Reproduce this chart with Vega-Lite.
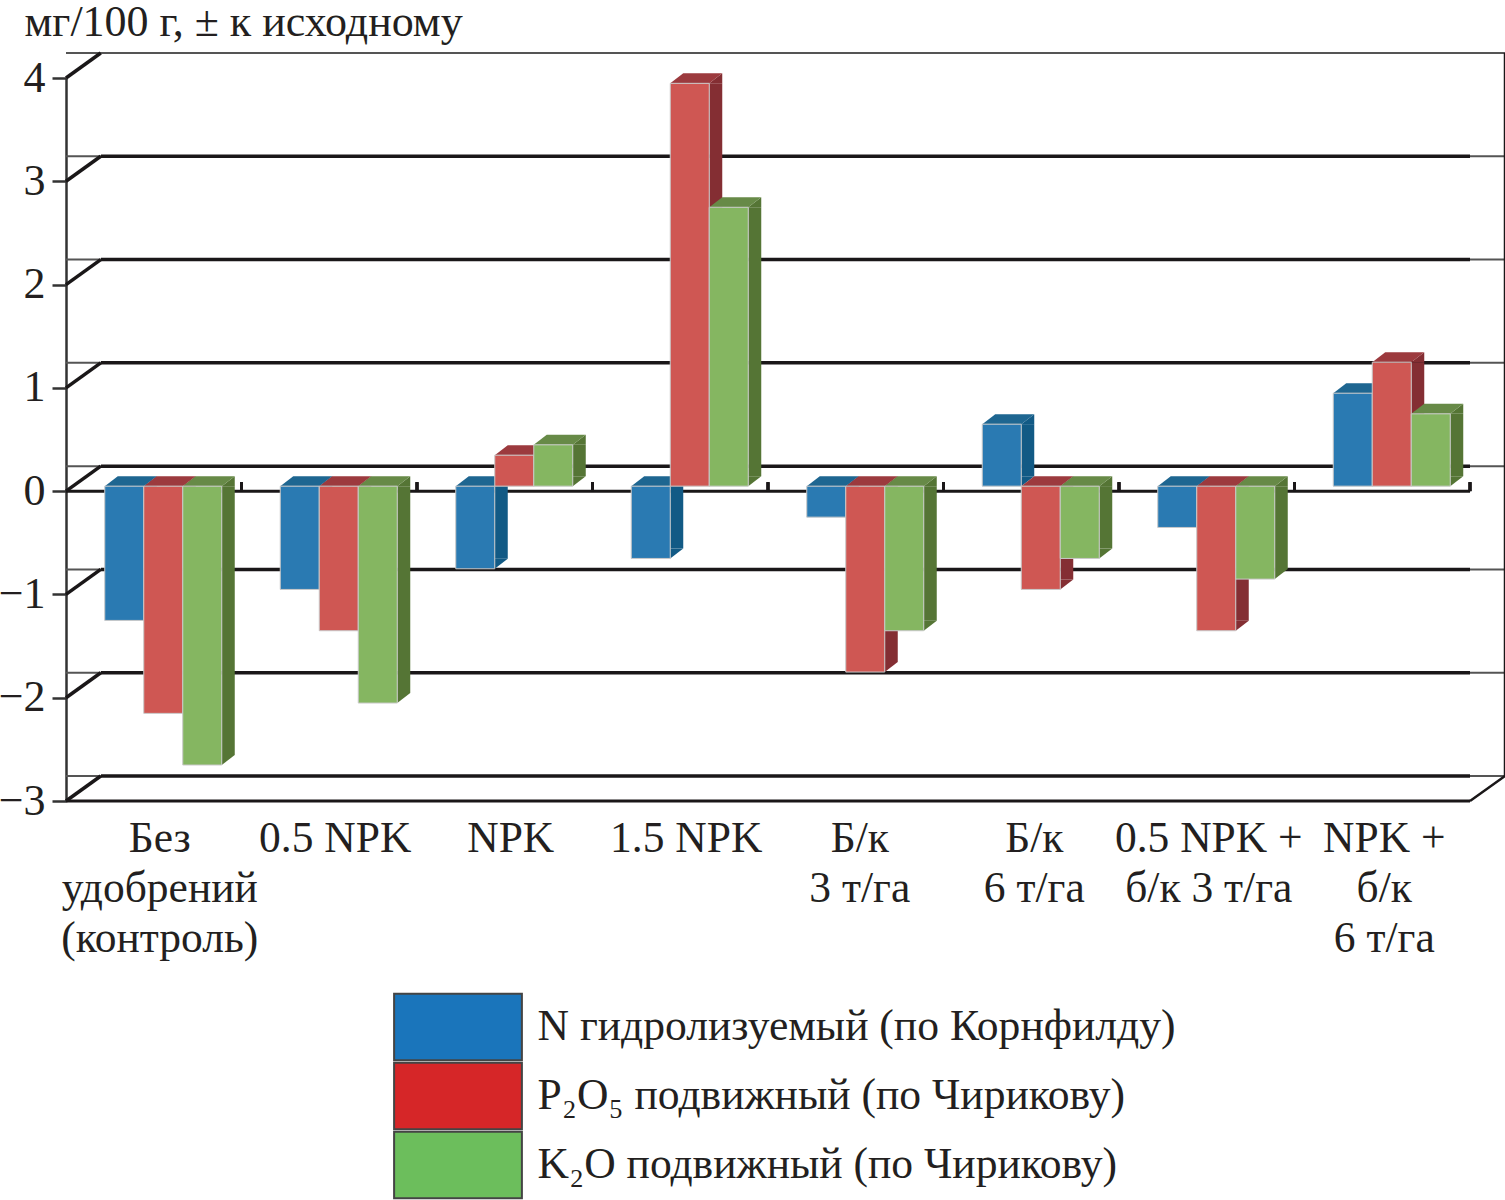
{
"$schema":"https://vega.github.io/schema/vega-lite/v6.json",
"autosize":{"type":"none"},
"padding":{"left":66,"top":78,"right":35,"bottom":399},
"width":1404,"height":723,
"background":"white",
"config":{"view":{"stroke":null},"font":"Liberation Serif"},
"data":{"values":[
{"group":"Без\nудобрений\n(контроль)","series":"N гидролизуемый (по Корнфилду)","value":-1.3},
{"group":"Без\nудобрений\n(контроль)","series":"P₂O₅ подвижный (по Чирикову)","value":-2.2},
{"group":"Без\nудобрений\n(контроль)","series":"K₂O подвижный (по Чирикову)","value":-2.7},
{"group":"0.5 NPK","series":"N гидролизуемый (по Корнфилду)","value":-1.0},
{"group":"0.5 NPK","series":"P₂O₅ подвижный (по Чирикову)","value":-1.4},
{"group":"0.5 NPK","series":"K₂O подвижный (по Чирикову)","value":-2.1},
{"group":"NPK","series":"N гидролизуемый (по Корнфилду)","value":-0.8},
{"group":"NPK","series":"P₂O₅ подвижный (по Чирикову)","value":0.3},
{"group":"NPK","series":"K₂O подвижный (по Чирикову)","value":0.4},
{"group":"1.5 NPK","series":"N гидролизуемый (по Корнфилду)","value":-0.7},
{"group":"1.5 NPK","series":"P₂O₅ подвижный (по Чирикову)","value":3.9},
{"group":"1.5 NPK","series":"K₂O подвижный (по Чирикову)","value":2.7},
{"group":"Б/к\n3 т/га","series":"N гидролизуемый (по Корнфилду)","value":-0.3},
{"group":"Б/к\n3 т/га","series":"P₂O₅ подвижный (по Чирикову)","value":-1.8},
{"group":"Б/к\n3 т/га","series":"K₂O подвижный (по Чирикову)","value":-1.4},
{"group":"Б/к\n6 т/га","series":"N гидролизуемый (по Корнфилду)","value":0.6},
{"group":"Б/к\n6 т/га","series":"P₂O₅ подвижный (по Чирикову)","value":-1.0},
{"group":"Б/к\n6 т/га","series":"K₂O подвижный (по Чирикову)","value":-0.7},
{"group":"0.5 NPK +\nб/к 3 т/га","series":"N гидролизуемый (по Корнфилду)","value":-0.4},
{"group":"0.5 NPK +\nб/к 3 т/га","series":"P₂O₅ подвижный (по Чирикову)","value":-1.4},
{"group":"0.5 NPK +\nб/к 3 т/га","series":"K₂O подвижный (по Чирикову)","value":-0.9},
{"group":"NPK +\nб/к\n6 т/га","series":"N гидролизуемый (по Корнфилду)","value":0.9},
{"group":"NPK +\nб/к\n6 т/га","series":"P₂O₅ подвижный (по Чирикову)","value":1.2},
{"group":"NPK +\nб/к\n6 т/га","series":"K₂O подвижный (по Чирикову)","value":0.7}
]},
"transform":[{"calculate":"max(datum.value,0)","as":"top"},{"calculate":"min(datum.value,0)","as":"bot"},{"calculate":"datum.series[0]=='N'?-1:datum.series[0]=='P'?0:1","as":"slot"},{"calculate":"datum.slot+2/3","as":"sideSlot"}],
"layer":[
{"data":{"values":[{"level":-3},{"level":-2},{"level":-1},{"level":0},{"level":1},{"level":2},{"level":3},{"level":4}]},
 "transform":[],
 "mark":{"type":"rule","color":"#555","strokeWidth":2,"xOffset":35,"x2Offset":35,"yOffset":-25},
 "encoding":{"y":{"field":"level","type":"quantitative","scale":{"domain":[-3,4],"nice":false},"axis":{"values":[-3,-2,-1,0,1,2,3,4],"format":"d","title":"мг/100 г, ± к исходному","titleFont":"Liberation Serif","titleFontSize":44,"titleFontWeight":"normal","titleColor":"#231f20","titleAngle":0,"titleAlign":"left","titleBaseline":"alphabetic","titleX":-42,"titleY":-43,"titleLimit":700,"grid":false,"domainColor":"#333","domainWidth":2.5,"tickColor":"#333","tickWidth":2.5,"tickSize":14,"labelFontSize":44,"labelColor":"#231f20","labelPadding":7,"labelFont":"Liberation Serif"}}}},
{"data":{"values":[{"level":-3},{"level":-2},{"level":-1},{"level":0},{"level":1},{"level":2},{"level":3}]},
 "transform":[],
 "mark":{"type":"point","shape":"M-52.75,-25L1316.25,-25","size":4,"filled":false,"opacity":1,"stroke":"#1a1718","strokeWidth":3.5},
 "encoding":{"x":{"datum":"Без\nудобрений\n(контроль)","type":"nominal"},"y":{"field":"level","type":"quantitative"}}},
{"data":{"values":[{"level":-3},{"level":-2},{"level":-1},{"level":0},{"level":1},{"level":2},{"level":3},{"level":4}]},
 "transform":[],
 "mark":{"type":"point","shape":"M-87.75,0L-53,-25","size":4,"filled":false,"opacity":1,"stroke":"#1a1718","strokeWidth":3.5},
 "encoding":{"x":{"datum":"Без\nудобрений\n(контроль)","type":"nominal"},"y":{"field":"level","type":"quantitative"}}},
{"data":{"values":[{"level":-3}]},
 "transform":[],
 "mark":{"type":"point","shape":"M87.75,0L122.75,-25L122.75,-748","size":4,"filled":false,"opacity":1,"stroke":"#1a1718","strokeWidth":2.5},
 "encoding":{"x":{"datum":"NPK +\nб/к\n6 т/га","type":"nominal"},"y":{"field":"level","type":"quantitative"}}},
{"data":{"values":[{"level":-3},{"level":0}]},
 "transform":[],
 "mark":{"type":"rule","color":"#1a1718","strokeWidth":3},
 "encoding":{"y":{"field":"level","type":"quantitative"}}},
{"mark":{"type":"point","shape":"M87.75,0L87.75,-9","size":4,"filled":false,"opacity":1,"stroke":"#1a1718","strokeWidth":3},
 "encoding":{"x":{"field":"group","type":"nominal","sort":null},"y":{"datum":0,"type":"quantitative"}}},
{"mark":{"type":"bar","width":13,"yOffset":-5,"y2Offset":-15},
 "encoding":{"x":{"field":"group","type":"nominal","sort":null},"xOffset":{"field":"sideSlot","type":"quantitative","scale":{"domain":[-1,1],"range":[58.25,136.25]}},"y":{"field":"top","type":"quantitative"},"y2":{"field":"bot"},
 "color":{"field":"series","sort":null,"legend":null,"scale":{"domain":["N гидролизуемый (по Корнфилду)","P₂O₅ подвижный (по Чирикову)","K₂O подвижный (по Чирикову)"],"range":["#125a85","#842e33","#557535"]}}}},
{"mark":{"type":"point","shape":"M19.5,0L32.5,-10L32.5,0Z","size":4,"filled":true,"opacity":1,"yOffset":-5},
 "encoding":{"x":{"field":"group","type":"nominal","sort":null},"xOffset":{"field":"slot","type":"quantitative"},"y":{"field":"top","type":"quantitative"},
 "color":{"field":"series","sort":null,"legend":null,"scale":{"domain":["N гидролизуемый (по Корнфилду)","P₂O₅ подвижный (по Чирикову)","K₂O подвижный (по Чирикову)"],"range":["#125a85","#842e33","#557535"]}}}},
{"mark":{"type":"point","shape":"M19.5,0L32.5,-10L19.5,-10Z","size":4,"filled":true,"opacity":1,"yOffset":-5},
 "encoding":{"x":{"field":"group","type":"nominal","sort":null},"xOffset":{"field":"slot","type":"quantitative"},"y":{"field":"bot","type":"quantitative"},
 "color":{"field":"series","sort":null,"legend":null,"scale":{"domain":["N гидролизуемый (по Корнфилду)","P₂O₅ подвижный (по Чирикову)","K₂O подвижный (по Чирикову)"],"range":["#125a85","#842e33","#557535"]}}}},
{"mark":{"type":"point","shape":"M-19.5,0L-6.5,-10L32.5,-10L19.5,0Z","size":4,"filled":true,"opacity":1,"yOffset":-5},
 "encoding":{"x":{"field":"group","type":"nominal","sort":null},"xOffset":{"field":"slot","type":"quantitative"},"y":{"field":"top","type":"quantitative"},
 "color":{"field":"series","sort":null,"legend":null,"scale":{"domain":["N гидролизуемый (по Корнфилду)","P₂O₅ подвижный (по Чирикову)","K₂O подвижный (по Чирикову)"],"range":["#1e6691","#9c3a3e","#678a47"]}}}},
{"mark":{"type":"bar","width":39,"yOffset":-5,"y2Offset":-5,"stroke":"#c9c9c9","strokeWidth":1},
 "encoding":{"x":{"field":"group","type":"nominal","sort":null,"title":null,"scale":{"type":"band","paddingInner":0,"paddingOuter":0,"domain":["Без\nудобрений\n(контроль)","0.5 NPK","NPK","1.5 NPK","Б/к\n3 т/га","Б/к\n6 т/га","0.5 NPK +\nб/к 3 т/га","NPK +\nб/к\n6 т/га"]},
 "axis":{"domain":false,"ticks":false,"labelAngle":0,"labelExpr":"split(datum.label,'\\n')","labelLineHeight":50,"labelFontSize":43.5,"labelColor":"#231f20","labelFont":"Liberation Serif","labelPadding":16,"labelLimit":400,"labelOverlap":false,"labelBaseline":"top","labelFlush":false,"labelSeparation":0,"labelAlign":"center","labelOffset":{"expr":"indexof(datum.label,'+')>=0?2:indexof(datum.label,'6')>=0?3:indexof(datum.label,'3')>=0?4:6"}}},
 "xOffset":{"field":"slot","type":"quantitative"},"y":{"field":"top","type":"quantitative"},"y2":{"field":"bot"},
 "color":{"field":"series","sort":null,"legend":null,"scale":{"domain":["N гидролизуемый (по Корнфилду)","P₂O₅ подвижный (по Чирикову)","K₂O подвижный (по Чирикову)"],"range":["#2a7ab2","#cf5753","#85b661"]}}}},
{"mark":{"type":"point","size":0,"filled":true,"opacity":1},
 "encoding":{"x":{"field":"group","type":"nominal","sort":null},"y":{"datum":0,"type":"quantitative"},
 "color":{"field":"series","sort":null,"scale":{"domain":["N гидролизуемый (по Корнфилду)","P₂O₅ подвижный (по Чирикову)","K₂O подвижный (по Чирикову)"],"range":["#1a75bb","#d62628","#6cbe5c"]},
 "legend":{"title":null,"orient":"none","legendX":361,"legendY":918,"padding":0,"symbolType":"M-2.13,-1.11L2.13,-1.11L2.13,1.11L-2.13,1.11Z","symbolSize":3600,"symbolStrokeColor":"#444","symbolStrokeWidth":2,"symbolOpacity":1,"labelFont":"Liberation Serif","labelFontSize":43.6,"labelColor":"#231f20","labelLimit":800,"labelOffset":48.5,"rowPadding":-9.6}}}}
],
"resolve":{"scale":{"color":"independent"}}
}
